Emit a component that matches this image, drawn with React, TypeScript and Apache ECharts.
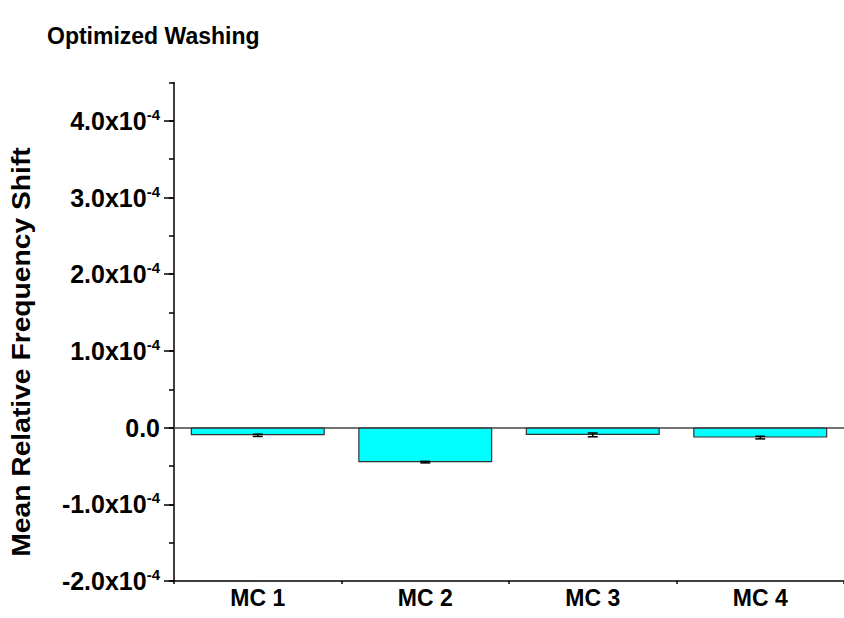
import React, { useEffect, useRef } from "react";
import * as echarts from "echarts";

const categories = ["MC 1", "MC 2", "MC 3", "MC 4"];
const meanShift = [-1.0e-5, -4.5e-5, -0.95e-5, -1.3e-5];
const errShift = [1.5e-6, 1.0e-6, 2.5e-6, 1.7e-6];
const yMajorTicks = [-2e-4, -1e-4, 0, 1e-4, 2e-4, 3e-4, 4e-4];

const FONT = "'Liberation Sans', Arial, sans-serif";

function fmt(v: number): string {
  const n = Math.round(v * 1e5) / 10;
  if (n === 0) return "{b|0.0}";
  return `{b|${n.toFixed(1)}x10}{s|-4}`;
}

export default function App() {
  const ref = useRef<HTMLDivElement>(null);
  useEffect(() => {
    if (!ref.current) return;
    const chart = echarts.init(ref.current, null, { renderer: "svg" });
    const left = 174;
    const top = 82.5;
    const bottom = 37;
    const width = 678;
    const plotH = 618 - top - bottom;
    const top2 = top + (0.5 / 6.5) * plotH;
    chart.setOption({
      animation: false,
      backgroundColor: "#fff",
      title: {
        text: "Optimized Washing",
        left: 42,
        top: 19,
        textStyle: { fontFamily: FONT, fontWeight: "bold", fontSize: 23, color: "#000" },
      },
      graphic: [
        {
          type: "text",
          x: 22,
          y: 352,
          rotation: Math.PI / 2,
          scaleX: 1.13,
          style: {
            text: "Mean Relative Frequency Shift",
            font: `bold 25px ${FONT}`,
            fill: "#000",
            textAlign: "center",
            textVerticalAlign: "middle",
          },
        },
      ],
      grid: [
        { left, top, width, bottom, containLabel: false },
        { left, top: top2, width, bottom, containLabel: false },
      ],
      xAxis: [
        {
          type: "category",
          data: categories,
          gridIndex: 0,
          position: "bottom",
          axisLine: { onZero: false, lineStyle: { color: "#000", width: 1.5 } },
          axisTick: { alignWithLabel: true, length: 6, lineStyle: { color: "#000", width: 1.5 } },
          axisLabel: {
            margin: 5,
            fontFamily: FONT,
            fontWeight: "bold",
            fontSize: 23,
            color: "#000",
          },
        },
        {
          type: "category",
          data: categories,
          gridIndex: 0,
          position: "bottom",
          axisLine: { show: false, onZero: false },
          axisTick: { show: true, alignWithLabel: false, length: 3, lineStyle: { color: "#000", width: 1.5 } },
          axisLabel: { show: false },
        },
        {
          type: "category",
          data: categories,
          gridIndex: 0,
          position: "bottom",
          axisLine: { show: true, onZero: true, lineStyle: { color: "#444", width: 1.5 } },
          axisTick: { show: false },
          axisLabel: { show: false },
        },
        {
          type: "category",
          data: categories,
          gridIndex: 1,
          show: false,
        },
      ],
      yAxis: [
        {
          type: "value",
          gridIndex: 0,
          min: -2e-4,
          max: 4.5e-4,
          interval: 0.5e-4,
          axisLine: { show: true, lineStyle: { color: "#000", width: 1.5 } },
          axisTick: { show: true, length: 5, lineStyle: { color: "#000", width: 1.5 } },
          axisLabel: { show: false },
          splitLine: { show: false },
        },
        {
          type: "value",
          gridIndex: 1,
          min: yMajorTicks[0],
          max: yMajorTicks[yMajorTicks.length - 1],
          interval: 1e-4,
          axisLine: { show: false },
          axisTick: { show: true, length: 10, lineStyle: { color: "#000", width: 1.5 } },
          splitLine: { show: false },
          axisLabel: {
            margin: 14,
            formatter: fmt,
            rich: {
              b: { fontFamily: FONT, fontWeight: "bold", fontSize: 25, color: "#000", lineHeight: 28 },
              s: {
                fontFamily: FONT,
                fontWeight: "bold",
                fontSize: 15,
                color: "#000",
                lineHeight: 15,
                verticalAlign: "top",
              },
            },
          },
        },
      ],
      series: [
        {
          type: "bar",
          xAxisIndex: 0,
          yAxisIndex: 0,
          data: meanShift,
          barWidth: "80%",
          itemStyle: { color: "#00FFFF", borderColor: "#333", borderWidth: 1.2 },
        },
        {
          type: "custom",
          xAxisIndex: 0,
          yAxisIndex: 0,
          data: meanShift.map((v, i) => [i, v, errShift[i]]),
          renderItem: (params: any, api: any) => {
            const i = api.value(0);
            const v = api.value(1);
            const e = api.value(2);
            const lo = api.coord([i, v - e]);
            const hi = api.coord([i, v + e]);
            const hw = 5;
            const st = { stroke: "#000", lineWidth: 1.5 };
            return {
              type: "group",
              children: [
                { type: "line", shape: { x1: lo[0], y1: lo[1], x2: hi[0], y2: hi[1] }, style: st },
                { type: "line", shape: { x1: lo[0] - hw, y1: lo[1], x2: lo[0] + hw, y2: lo[1] }, style: st },
                { type: "line", shape: { x1: hi[0] - hw, y1: hi[1], x2: hi[0] + hw, y2: hi[1] }, style: st },
              ],
            };
          },
          z: 5,
        },
      ],
    });
    return () => chart.dispose();
  }, []);
  return (
    <div
      ref={ref}
      style={{ position: "fixed", left: 0, top: 0, width: 844, height: 618 }}
    />
  );
}
